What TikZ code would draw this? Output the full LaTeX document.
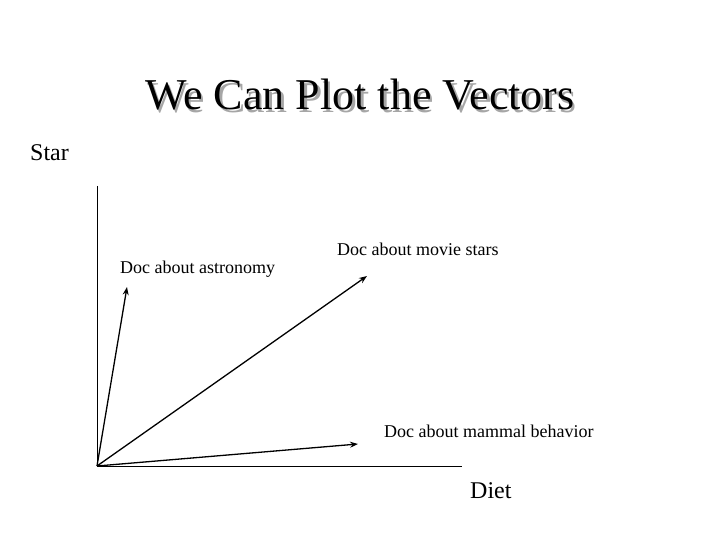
\documentclass[tikz,border=0pt]{standalone}
\usepackage{fontspec}
\setmainfont{Liberation Serif}
\usetikzlibrary{
    positioning,           % Relative positioning
    arrows.meta            % Modern arrow tips
}
\tikzset{
    label/.style={inner sep=0pt, anchor=base west, font=\fontsize{18}{20}\selectfont},
    axislabel/.style={inner sep=0pt, anchor=base west, font=\fontsize{24}{28}\selectfont},
    axis/.style={line width=1pt},
    vec/.style={line width=1.3pt, -{Stealth[length=8pt,width=6pt]}}
}

\begin{document}
\begin{tikzpicture}[x=1pt,y=-1pt]
    \useasboundingbox (0,0) rectangle (720,540);
    % title with its shadow
    \node[inner sep=0pt, anchor=base, text=black!35, font=\fontsize{44}{50}\selectfont] (titleshadow) at (362.5,112.5) {We Can Plot the Vectors};
    \node[inner sep=0pt, anchor=base, font=\fontsize{44}{50}\selectfont] (title) at (360,110) {We Can Plot the Vectors};
    \node[axislabel] (star) at (30,161) {Star};
    \node[axislabel] (diet) at (470,498) {Diet};
    % axes
    \coordinate (O) at (97,466);
    \coordinate (ytop) at (97,186);
    \coordinate (xend) at (462,466);
    \draw[axis] (ytop) -- (O) -- (xend);
    % vectors
    \coordinate (astro) at (127,287);
    \coordinate (movie) at (367,276);
    \coordinate (mammal) at (358,444);
    \draw[vec] (O) -- (astro);
    \draw[vec] (O) -- (movie);
    \draw[vec] (O) -- (mammal);
    \node[label] (astrolabel) at (120,273) {Doc about astronomy};
    \node[label] (movielabel) at (337,255) {Doc about movie stars};
    \node[label] (mammallabel) at (384,437) {Doc about mammal behavior};
\end{tikzpicture}
\end{document}
